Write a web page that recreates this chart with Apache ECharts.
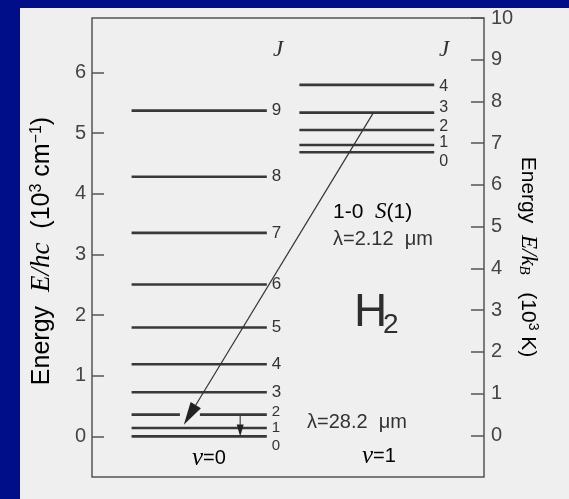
<!DOCTYPE html>
<html>
<head>
<meta charset="utf-8">
<script src="https://cdn.jsdelivr.net/npm/echarts@6/dist/echarts.min.js"></script>
<style>
html, body { margin: 0; padding: 0; background: #efefef; }
#chart { width: 569px; height: 499px; }
</style>
</head>
<body>
<div id="chart"></div>
<script>
// H2 rotational levels, energy in 10^3 cm^-1
var v0J = [0, 1, 2, 3, 4, 5, 6, 7, 8, 9];
var v0Energy = [0, 0.137, 0.358, 0.727, 1.189, 1.795, 2.505, 3.357, 4.282, 5.372];
var v1J = [0, 1, 2, 3, 4];
var v1Energy = [4.685, 4.806, 5.054, 5.339, 5.797];
var leftTicks = [0, 1, 2, 3, 4, 5, 6];      // 10^3 cm^-1
var rightTicks = [0, 1, 2, 3, 4, 5, 6, 7, 8, 9, 10]; // 10^3 K
// transitions: [upper v, upper J, lower v, lower J]
var s1Line = [1, 3, 0, 1];   // 1-0 S(1), 2.12 um
var s0Line = [0, 2, 0, 0];   // 0-0 S(0), 28.2 um

var ink = '#333';
var sans = '"Liberation Sans", Arial, sans-serif';
var serif = '"Liberation Serif", "Times New Roman", serif';

// horizontal layout inside the frame (x axis runs 0..100)
var v0X = [10.1, 44.6];
var v1X = [52.9, 87.3];
var s1X = [71.8, 22.9];
var s0X = 37.8;

function energyOf(v, J) { return v === 0 ? v0Energy[J] : v1Energy[J]; }

function s1Geom(api) {
    var a = api.coord([s1X[0], energyOf(s1Line[0], s1Line[1])]);
    var b = api.coord([s1X[1], energyOf(s1Line[2], s1Line[3])]);
    var ty = b[1] - 3.4;
    var t = (ty - a[1]) / (b[1] - a[1]);
    var tip = [a[0] + (b[0] - a[0]) * t, ty];
    var dx = tip[0] - a[0], dy = tip[1] - a[1];
    var len = Math.sqrt(dx * dx + dy * dy);
    return { a: a, tip: tip, ux: dx / len, uy: dy / len };
}

// label nudges (px) where levels crowd together
var v0Nudge = { 0: 9, 1: 0, 2: -3 };
var v1Nudge = { 0: 9, 1: -2, 2: -3, 3: -5, 4: 2 };

function levelRenderer(xs, nudge, isLower) {
    return function (params, api) {
        var e = api.value(0), J = api.value(1);
        var p0 = api.coord([xs[0], e]);
        var p1 = api.coord([xs[1], e]);
        var y = p0[1];
        var st = { stroke: '#383838', lineWidth: 2.6 };
        var kids = [];
        var cut = null;
        if (isLower) {
            var g = s1Geom(api);
            var headTop = g.tip[1] - 21 * g.uy;
            if (y > headTop && y < g.tip[1] - 2) {
                var s = (g.tip[1] - y) / g.uy;
                var cx = g.tip[0] - s * g.ux;
                cut = [cx - 10, cx + 10];
            }
        }
        if (cut) {
            kids.push({ type: 'line', shape: { x1: p0[0], y1: y, x2: cut[0], y2: y }, style: st });
            kids.push({ type: 'line', shape: { x1: cut[1], y1: y, x2: p1[0], y2: y }, style: st });
        } else {
            kids.push({ type: 'line', shape: { x1: p0[0], y1: y, x2: p1[0], y2: y }, style: st });
        }
        var size = 17;
        if (nudge[J] !== undefined) size = isLower ? 15 : 16;
        kids.push({
            type: 'text',
            x: p1[0] + 5,
            y: y + (nudge[J] || 0),
            style: {
                text: String(J), fill: ink, fontFamily: sans,
                fontSize: size,
                textAlign: 'left', textVerticalAlign: 'middle'
            }
        });
        return { type: 'group', children: kids };
    };
}

function arrowRenderer(params, api) {
    var g = s1Geom(api);
    var base = [g.tip[0] - 23 * g.ux, g.tip[1] - 23 * g.uy];
    var px = -g.uy, py = g.ux, w = 6;
    // small vertical S(0) arrow
    var q0 = api.coord([s0X, energyOf(s0Line[0], s0Line[1])]);
    var q1 = api.coord([s0X, energyOf(s0Line[2], s0Line[3])]);
    var hb = q1[1] - 12;
    return {
        type: 'group',
        children: [
            { type: 'line', shape: { x1: g.a[0], y1: g.a[1], x2: base[0] + 2 * g.ux, y2: base[1] + 2 * g.uy },
              style: { stroke: ink, lineWidth: 1.2 } },
            { type: 'polygon', shape: { points: [g.tip, [base[0] + px * w, base[1] + py * w], [base[0] - px * w, base[1] - py * w]] },
              style: { fill: '#222' } },
            { type: 'line', shape: { x1: q0[0], y1: q0[1], x2: q0[0], y2: hb + 1 },
              style: { stroke: ink, lineWidth: 1.1 } },
            { type: 'polygon', shape: { points: [[q1[0], q1[1]], [q1[0] - 3.5, hb], [q1[0] + 3.5, hb]] },
              style: { fill: '#222' } }
        ]
    };
}

var v0Data = v0J.map(function (j, i) { return [v0Energy[i], j]; });
var v1Data = v1J.map(function (j, i) { return [v1Energy[i], j]; });

var chart = echarts.init(document.getElementById('chart'), null, { renderer: 'canvas' });

var option = {
    backgroundColor: '#efefef',
    animation: false,
    grid: {
        left: 92, right: 85, top: 18, bottom: 22,
        show: true, borderColor: '#555', borderWidth: 1.5,
        backgroundColor: 'transparent',
        outerBoundsMode: 'none'
    },
    xAxis: { type: 'value', min: 0, max: 100, show: false },
    yAxis: [
        {
            type: 'value', min: -0.67, max: 6.9, position: 'left',
            axisLine: { show: false },
            splitLine: { show: false },
            axisTick: { show: true, inside: true, length: 12, customValues: leftTicks,
                        lineStyle: { color: '#555', width: 1.5 } },
            axisLabel: { customValues: leftTicks, margin: 6, color: '#444',
                         fontFamily: sans, fontSize: 20 }
        },
        {
            type: 'value', min: -1, max: 10, position: 'right',
            axisLine: { show: false },
            splitLine: { show: false },
            axisTick: { show: true, inside: true, length: 13, customValues: rightTicks,
                        lineStyle: { color: '#555', width: 1.5 } },
            axisLabel: { customValues: rightTicks, margin: 7, color: '#444',
                         fontFamily: sans, fontSize: 20 }
        }
    ],
    series: [
        { type: 'custom', name: 'v=0', renderItem: levelRenderer(v0X, v0Nudge, true),
          data: v0Data, encode: { y: 0 }, z: 2 },
        { type: 'custom', name: 'v=1', renderItem: levelRenderer(v1X, v1Nudge, false),
          data: v1Data, encode: { y: 0 }, z: 2 },
        { type: 'custom', name: 'transitions', renderItem: arrowRenderer,
          data: [[0, 0]], z: 3 }
    ],
    graphic: [
        { type: 'rect', silent: true, shape: { x: 0, y: 0, width: 569, height: 8 }, style: { fill: '#000e8a' } },
        { type: 'rect', silent: true, shape: { x: 0, y: 0, width: 20, height: 499 }, style: { fill: '#000e8a' } },
        { type: 'text', x: 278, y: 50, style: { text: 'J', fill: ink, fontFamily: serif, fontStyle: 'italic',
            fontSize: 23, textAlign: 'center', textVerticalAlign: 'middle' } },
        { type: 'text', x: 444, y: 50, style: { text: 'J', fill: ink, fontFamily: serif, fontStyle: 'italic',
            fontSize: 23, textAlign: 'center', textVerticalAlign: 'middle' } },
        { type: 'text', x: 333, y: 212, style: {
            text: '{r|1-0  }{i|S}{r|(1)}', textAlign: 'left', textVerticalAlign: 'middle',
            rich: { r: { fontFamily: sans, fontSize: 21, color: ink },
                    i: { fontFamily: serif, fontStyle: 'italic', fontSize: 23, color: ink } } } },
        { type: 'text', x: 333, y: 239, style: { text: 'λ=2.12  μm', fill: ink, fontFamily: sans,
            fontSize: 20, textAlign: 'left', textVerticalAlign: 'middle' } },
        { type: 'text', x: 307, y: 422, style: { text: 'λ=28.2  μm', fill: ink, fontFamily: sans,
            fontSize: 20, textAlign: 'left', textVerticalAlign: 'middle' } },
        { type: 'text', x: 354, y: 313, style: { text: 'H', fill: '#2e2e2e', fontFamily: sans,
            fontSize: 46, textAlign: 'left', textVerticalAlign: 'middle' } },
        { type: 'text', x: 383, y: 325, style: { text: '2', fill: '#2e2e2e', fontFamily: sans,
            fontSize: 28, textAlign: 'left', textVerticalAlign: 'middle' } },
        { type: 'text', x: 192, y: 458, style: {
            text: '{i|v}{r|=0}', textAlign: 'left', textVerticalAlign: 'middle',
            rich: { r: { fontFamily: sans, fontSize: 20, color: ink },
                    i: { fontFamily: serif, fontStyle: 'italic', fontSize: 25, color: ink } } } },
        { type: 'text', x: 362, y: 456, style: {
            text: '{i|v}{r|=1}', textAlign: 'left', textVerticalAlign: 'middle',
            rich: { r: { fontFamily: sans, fontSize: 20, color: ink },
                    i: { fontFamily: serif, fontStyle: 'italic', fontSize: 25, color: ink } } } },
        { type: 'text', x: 42, y: 251, rotation: Math.PI / 2, style: {
            text: '{r|Energy}{r|  }{i|E/hc}{r|  (10}{sup|3}{r| cm}{sup|−1}{r|)}',
            textAlign: 'center', textVerticalAlign: 'middle',
            rich: { r: { fontFamily: sans, fontSize: 25, color: '#3a3a3a' },
                    i: { fontFamily: serif, fontStyle: 'italic', fontSize: 27, color: '#3a3a3a' },
                    sup: { fontFamily: sans, fontSize: 16, color: '#3a3a3a', verticalAlign: 'top' } } } },
        { type: 'text', x: 528, y: 257, rotation: -Math.PI / 2, style: {
            text: '{r|Energy}{r|  }{i|E/k}{sub|B}{r|   (10}{sup|3}{r| K)}',
            textAlign: 'center', textVerticalAlign: 'middle',
            rich: { r: { fontFamily: sans, fontSize: 21, color: '#3a3a3a' },
                    i: { fontFamily: serif, fontStyle: 'italic', fontSize: 23, color: '#3a3a3a' },
                    sub: { fontFamily: serif, fontStyle: 'italic', fontSize: 15, color: '#3a3a3a', verticalAlign: 'bottom' },
                    sup: { fontFamily: sans, fontSize: 14, color: '#3a3a3a', verticalAlign: 'top' } } } }
    ]
};

chart.setOption(option);
</script>
</body>
</html>
